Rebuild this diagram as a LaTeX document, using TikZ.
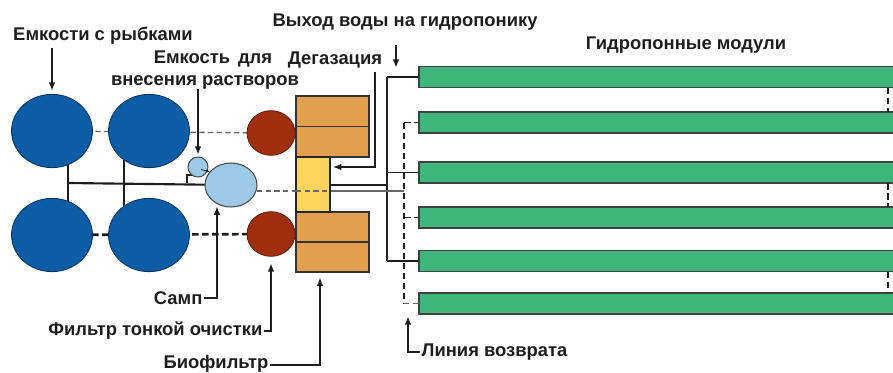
\documentclass[tikz,border=0pt]{standalone}
\usepackage{fontspec}
\setmainfont{Liberation Sans}
\usetikzlibrary{shapes.geometric,arrows.meta}
\pgfdeclarelayer{bg}
\pgfsetlayers{bg,main}
\definecolor{fishblue}{RGB}{12,92,166}
\definecolor{sumpblue}{RGB}{156,202,230}
\definecolor{filterbrown}{RGB}{158,46,14}
\definecolor{bioorange}{RGB}{226,160,78}
\definecolor{degasyellow}{RGB}{250,212,92}
\definecolor{modgreen}{RGB}{62,182,124}
\definecolor{ink}{RGB}{30,30,30}
\tikzset{
  lbl/.style={font=\bfseries\fontsize{13.8}{16}\selectfont, text=ink, inner sep=1pt},
  arr/.style={draw=ink, line width=1.5pt, -{Latex[length=6.5pt,width=5pt]}},
  tank/.style={ellipse, fill=fishblue, draw=fishblue!55!black, line width=0.6pt,
    inner sep=0pt, outer sep=0pt, minimum width=60.75pt, minimum height=55pt},
  finefilter/.style={ellipse, fill=filterbrown, draw=filterbrown!60!black, line width=0.6pt,
    inner sep=0pt, outer sep=0pt, minimum width=36pt, minimum height=33.5pt},
  sumptank/.style={ellipse, fill=sumpblue, draw=black!70, line width=0.8pt,
    inner sep=0pt, outer sep=0pt},
  biobox/.style={rectangle, fill=bioorange, draw=black!80, line width=0.9pt,
    inner sep=0pt, outer sep=0pt, anchor=north west, minimum width=54.75pt},
  degasbox/.style={rectangle, fill=degasyellow, draw=black!85, line width=1.3pt,
    inner sep=0pt, outer sep=0pt, anchor=north west},
  module/.style={rectangle, fill=modgreen, draw=black!75, line width=0.9pt,
    inner sep=0pt, outer sep=0pt, anchor=west, minimum width=362pt, minimum height=15.75pt},
  pipe/.style={draw=ink, line width=1.6pt},
  thinpipe/.style={draw=ink, line width=1.1pt},
  retpipe/.style={draw=ink, line width=1.4pt, dash pattern=on 5pt off 2.5pt},
  lightret/.style={draw=black!60, line width=1pt, dash pattern=on 4pt off 2.5pt},
}
\begin{document}
\begin{tikzpicture}[x=0.75pt,y=-0.75pt]
\useasboundingbox (0,0) rectangle (893,372);
\clip (0,0) rectangle (893,372);

% fish tanks
\node[tank] (t1) at (52,131) {};
\node[tank] (t2) at (149,131) {};
\node[tank] (t3) at (52,235) {};
\node[tank] (t4) at (149,235) {};

% fine filters
\node[finefilter] (f1) at (271,133) {};
\node[finefilter] (f2) at (271,234) {};

% solution tank and sump
\node[sumptank, minimum width=15pt, minimum height=15pt] (s) at (198,167) {};
\node[sumptank, minimum width=39pt, minimum height=33pt] (sump) at (231,185) {};

% biofilter blocks and degassing column
\node[biobox, minimum height=45.75pt] (b1) at (296,96) {};
\node[biobox, minimum height=45pt] (b2) at (296,212) {};
\node[degasbox, minimum width=25.5pt, minimum height=41.25pt] (d) at (296,157) {};
\draw[draw=black!80, line width=0.9pt] (b1.west) -- (b1.east);
\draw[draw=black!80, line width=0.9pt] (b2.west) -- (b2.east);

% hydroponic modules
\node[module] (m1) at (419,77) {};
\node[module] (m2) at (419,122.5) {};
\node[module] (m3) at (419,172.5) {};
\node[module] (m4) at (419,217.5) {};
\node[module] (m5) at (419,261) {};
\node[module] (m6) at (419,303.5) {};

% junction points
\coordinate (c1) at (68,183);
\coordinate (c2) at (124,183);
\coordinate (br) at (187,175);
\coordinate (man) at (387,185);
\coordinate (ret) at (404,191);
\coordinate (turn) at (888,0);

\begin{pgfonlayer}{bg}
  % tank links
  \draw[lightret] (t1.center) -- (f1.center);
  \draw[retpipe, line width=2pt] (t3.center) -- (f2.center);
  \draw[pipe] (c1 |- t1.center) -- (c1 |- t3.center);
  \draw[thinpipe] (c2 |- t2.center) -- (c2 |- t4.center);
  \draw[pipe] (c1) -- (sump.center);
  \draw[thinpipe] (br |- c1) -- (br) -- (br -| s.center);
  % return line from sump
  \draw[lightret] (sump.center |- ret) -- (ret);
\end{pgfonlayer}

% dosing arrow between tanks
\draw[draw=ink, line width=0.6pt, -{Latex[length=3pt,width=2.5pt]}] (201,169.5) -- (sump.148);

% degassing column out to supply manifold
\draw[thinpipe] (d.east |- man) -- (man);
\draw[thinpipe] (man |- m1.west) -- (man |- m5.west);
\draw[thinpipe] (man |- m1.west) -- (m1.west);
\draw[thinpipe] (man |- m3.west) -- (m3.west);
\draw[thinpipe] (man |- m5.west) -- (m5.west);

% return manifold
\draw[lightret] (sump.east |- ret) -- (d.west |- ret);
\draw[lightret] (d.west |- ret) -- (ret);
\draw[retpipe] (ret |- m2.west) -- (ret |- m6.west);
\draw[retpipe] (ret |- m2.west) -- (m2.west);
\draw[retpipe] (ret |- m4.west) -- (m4.west);
\draw[lightret] (ret |- m6.west) -- (m6.west);

% U-turns at the far end of the modules
\draw[retpipe, line width=1.2pt] (turn |- m1.south) -- (turn |- m2.north);
\draw[retpipe, line width=1.2pt] (turn |- m3.south) -- (turn |- m4.north);
\draw[retpipe, line width=1.2pt] (turn |- m5.south) -- (turn |- m6.north);

% labels
\node[lbl] (lfish) at (103,36) {Емкости с рыбками};
\node[lbl] (ltank1) at (213,59) {Емкость\hspace{2pt} для};
\node[lbl] (ldeg) at (335,60) {Дегазация};
\node[lbl] (ltank2) at (205,82) {внесения растворов};
\node[lbl] (lout) at (405,22) {Выход воды на гидропонику};
\node[lbl] (lmod) at (686,45) {Гидропонные модули};
\node[lbl, anchor=east] (lsump) at (204,298) {Самп};
\node[lbl, anchor=east] (lfine) at (264,331) {Фильтр тонкой очистки};
\node[lbl, anchor=east] (lbio) at (270,364) {Биофильтр};
\node[lbl, anchor=west] (lret) at (420,352) {Линия возврата};

% label leaders
\coordinate (afish) at (52,48);
\draw[arr] (afish) -- ([yshift=2.5pt]t1.north);
\coordinate (atank) at (198,89);
\draw[arr] (atank) -- ([yshift=1.5pt]s.north);
\coordinate (adeg) at (375,72);
\coordinate (adeg2) at (375,167);
\draw[arr] (adeg) -- (adeg2) -- ([xshift=2pt]d.east |- adeg2);
\coordinate (aout) at (396,45);
\draw[arr] (aout) -- (396,68);
\coordinate (asump) at (217,298);
\draw[arr] (lsump.east) -- (asump) -- ([yshift=-1.5pt]asump |- sump.236);
\coordinate (afine) at (271,331);
\draw[arr] (lfine.east) -- (afine) -- ([yshift=-5pt]f2.south);
\coordinate (abio) at (320,365);
\draw[arr] (lbio.east |- abio) -- (abio) -- ([yshift=-4pt]abio |- b2.south);
\coordinate (aret) at (408,352);
\draw[arr] (lret.west) -- (aret) -- (408,316);
\end{tikzpicture}
\end{document}
